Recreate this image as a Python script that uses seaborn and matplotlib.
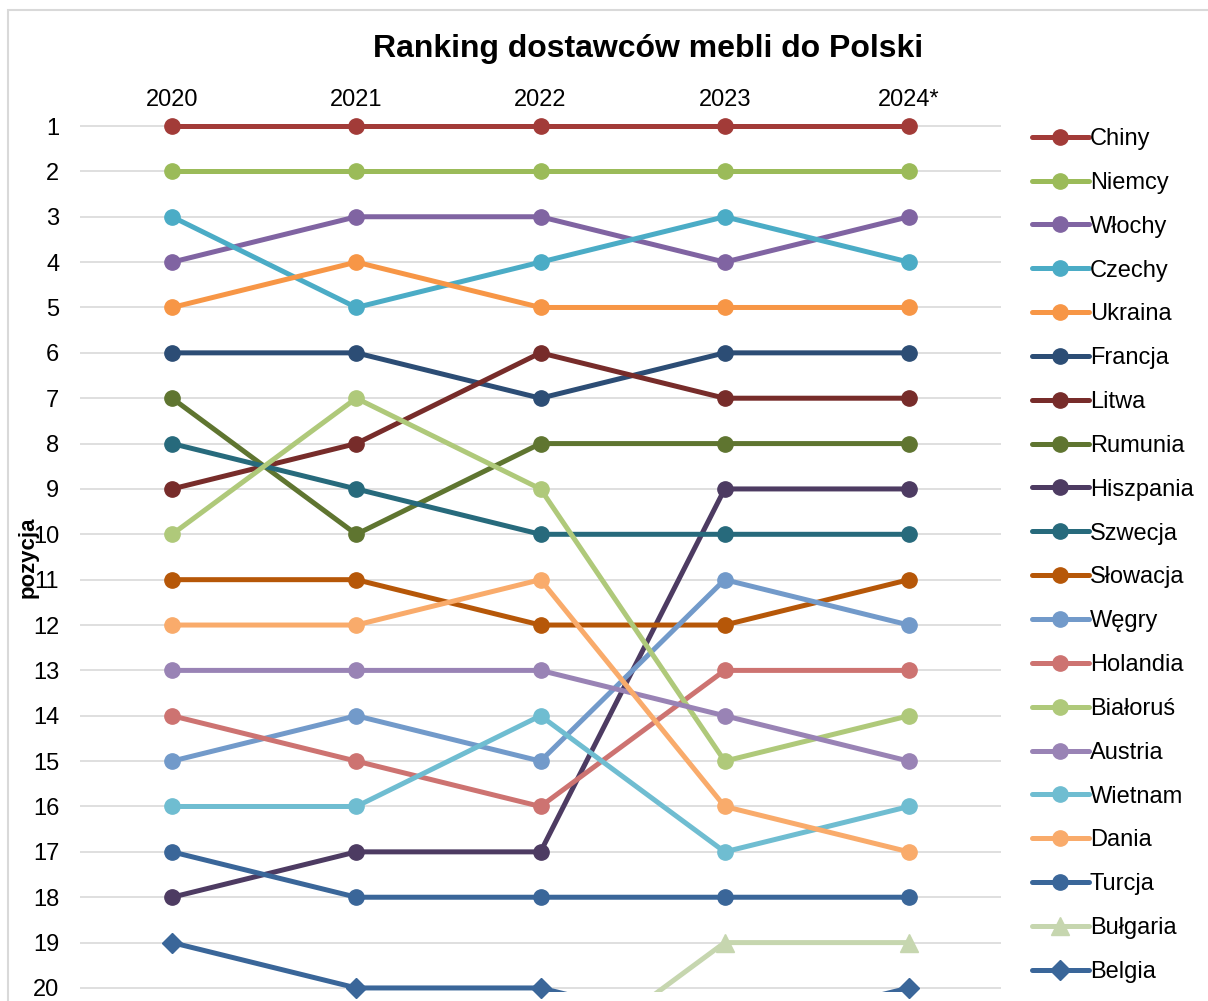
import matplotlib
matplotlib.use('Agg')
import matplotlib.pyplot as plt
import seaborn as sns
import pandas as pd
import numpy as np
from matplotlib.lines import Line2D
from matplotlib.patches import Rectangle

# ---------------- data ----------------
years = ['2020', '2021', '2022', '2023', '2024*']
countries = ['Chiny', 'Niemcy', 'Włochy', 'Czechy', 'Ukraina', 'Francja', 'Litwa',
             'Rumunia', 'Hiszpania', 'Szwecja', 'Słowacja', 'Węgry', 'Holandia',
             'Białoruś', 'Austria', 'Wietnam', 'Dania', 'Turcja', 'Bułgaria', 'Belgia']

chiny = [1, 1, 1, 1, 1]
niemcy = [2, 2, 2, 2, 2]
wlochy = [4, 3, 3, 4, 3]
czechy = [3, 5, 4, 3, 4]
ukraina = [5, 4, 5, 5, 5]
francja = [6, 6, 7, 6, 6]
litwa = [9, 8, 6, 7, 7]
rumunia = [7, 10, 8, 8, 8]
hiszpania = [18, 17, 17, 9, 9]
szwecja = [8, 9, 10, 10, 10]
slowacja = [11, 11, 12, 12, 11]
wegry = [15, 14, 15, 11, 12]
holandia = [14, 15, 16, 13, 13]
bialorus = [10, 7, 9, 15, 14]
austria = [13, 13, 13, 14, 15]
wietnam = [16, 16, 14, 17, 16]
dania = [12, 12, 11, 16, 17]
turcja = [17, 18, 18, 18, 18]
bulgaria = [np.nan, np.nan, 22, 19, 19]
belgia = [19, 20, 20, 21, 20]

ranks = [chiny, niemcy, wlochy, czechy, ukraina, francja, litwa, rumunia, hiszpania,
         szwecja, slowacja, wegry, holandia, bialorus, austria, wietnam, dania,
         turcja, bulgaria, belgia]

colors = ['#A23B38', '#9BBB59', '#8064A2', '#4BACC6', '#F79646', '#2C4D75', '#772C2A',
          '#5F7530', '#4D3B62', '#276A7C', '#B65708', '#729ACA', '#CD7371', '#AFC97A',
          '#9983B5', '#6FBDD1', '#F9AB6B', '#3A6699', '#C6D6AF', '#3A6699']
markers = ['o'] * 18 + ['^', 'D']
msizes = [11] * 18 + [13, 10]

rows = []
for c, r in zip(countries, ranks):
    for i, (y, v) in enumerate(zip(years, r)):
        rows.append({'country': c, 'x': i, 'year': y, 'rank': v})
df = pd.DataFrame(rows)

# ---------------- style ----------------
sns.set_theme(style='white')
plt.rcParams['font.family'] = ['Liberation Sans', 'DejaVu Sans']
plt.rcParams['text.color'] = 'black'

W, H = 1208, 1001
fig = plt.figure(figsize=(W / 100, H / 100), dpi=100)
ax = fig.add_axes([80 / W, 0.0085, 921 / W, 0.8792])

LW = 3.6
for k, (c, col) in enumerate(zip(countries, colors)):
    sub = df[df['country'] == c].dropna()
    sns.lineplot(data=sub, x='x', y='rank', color=col, linewidth=LW, ax=ax,
                 sort=False, estimator=None, legend=False, zorder=3 + k * 0.01)
    vis = sub[sub['rank'] <= 20]
    ax.plot(vis['x'], vis['rank'], linestyle='none', marker=markers[k],
            markersize=msizes[k], color=col, mec=col, clip_on=False,
            zorder=3 + k * 0.01 + 0.005)

ax.set_xlim(-0.5, 4.5)
ax.set_ylim(20.1, 0.7)
ax.set_yticks(range(1, 21))
ax.set_yticklabels([str(i) for i in range(1, 21)])
ax.set_xticks(range(len(years)))
ax.set_xticklabels(years)
ax.xaxis.tick_top()
ax.tick_params(axis='x', length=0, pad=1, labelsize=17, colors='black')
ax.tick_params(axis='y', length=0, pad=15, labelsize=17, colors='black')
ax.set_xlabel('')
ax.set_ylabel('')
ax.grid(axis='y', color='#D9D9D9', linewidth=1.2, zorder=0)
ax.grid(axis='x', visible=False)
for s in ax.spines.values():
    s.set_visible(False)
ax.set_facecolor('none')

# title & y label
fig.text(648 / W, 1 - 49 / H, 'Ranking dostawców mebli do Polski', ha='center',
         va='center', fontsize=23, fontweight='bold', color='black')
fig.text(28 / W, 1 - 557 / H, 'pozycja', rotation=90, ha='center', va='center',
         fontsize=16, fontweight='bold', color='black')

# legend
handles = [Line2D([0], [0], color=col, lw=LW, marker=m, markersize=ms, mec=col)
           for col, m, ms in zip(colors, markers, msizes)]
fig.legend(handles, countries, loc='upper left', bbox_to_anchor=(1032 / W, 1 - 128 / H),
           frameon=False, fontsize=17, borderpad=0, borderaxespad=0,
           handlelength=2.4, handletextpad=0.05, labelspacing=0.925,
           labelcolor='black')

# chart border
fig.patches.append(Rectangle((8 / W, -0.2), 1.5, 1.2 - 10 / H, transform=fig.transFigure,
                             fill=False, edgecolor='#D9D9D9', linewidth=1.5))

fig.savefig('out.png', dpi=100)
